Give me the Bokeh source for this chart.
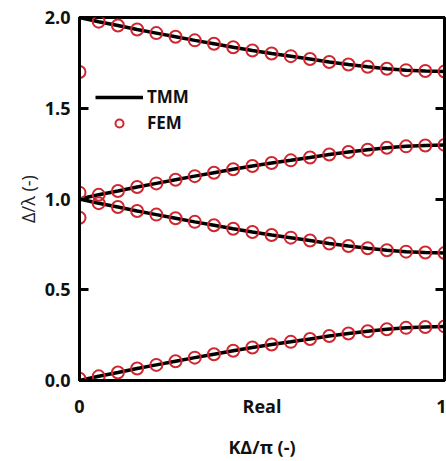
from bokeh.plotting import figure
from bokeh.models import (Range1d, LinearAxis, FixedTicker, Legend, LegendItem,
                          CustomLabelingPolicy)
from bokeh.embed import file_html
from bokeh.resources import INLINE

# ---- data ----
k_over_pi = [0.0, 0.0526, 0.1053, 0.1579, 0.2105, 0.2632, 0.3158, 0.3684, 0.4211, 0.4737,
             0.5263, 0.5789, 0.6316, 0.6842, 0.7368, 0.7895, 0.8421, 0.8947, 0.9474, 1.0]

tmm_band4 = [2.000, 1.977, 1.956, 1.934, 1.914, 1.894, 1.874, 1.855, 1.836, 1.818,
             1.802, 1.787, 1.771, 1.755, 1.741, 1.729, 1.718, 1.710, 1.705, 1.702]
tmm_band3 = [1.000, 1.023, 1.044, 1.066, 1.086, 1.106, 1.126, 1.145, 1.164, 1.182,
             1.198, 1.213, 1.229, 1.245, 1.259, 1.271, 1.282, 1.290, 1.295, 1.298]
tmm_band2 = [1.000, 0.977, 0.956, 0.934, 0.914, 0.894, 0.874, 0.855, 0.836, 0.818,
             0.802, 0.787, 0.771, 0.755, 0.741, 0.729, 0.718, 0.710, 0.705, 0.702]
tmm_band1 = [0.000, 0.023, 0.044, 0.066, 0.086, 0.106, 0.126, 0.145, 0.164, 0.182,
             0.198, 0.213, 0.229, 0.245, 0.259, 0.271, 0.282, 0.290, 0.295, 0.298]

fem_band4 = [1.700, 1.977, 1.956, 1.934, 1.914, 1.894, 1.874, 1.855, 1.836, 1.818,
             1.802, 1.787, 1.771, 1.755, 1.741, 1.729, 1.718, 1.710, 1.705, 1.702]
fem_band3 = [1.035, 1.023, 1.044, 1.066, 1.086, 1.106, 1.126, 1.145, 1.164, 1.182,
             1.198, 1.213, 1.229, 1.245, 1.259, 1.271, 1.282, 1.290, 1.295, 1.298]
fem_band2 = [0.897, 0.977, 0.956, 0.934, 0.914, 0.894, 0.874, 0.855, 0.836, 0.818,
             0.802, 0.787, 0.771, 0.755, 0.741, 0.729, 0.718, 0.710, 0.705, 0.702]
fem_band1 = [0.010, 0.023, 0.044, 0.066, 0.086, 0.106, 0.126, 0.145, 0.164, 0.182,
             0.198, 0.213, 0.229, 0.245, 0.259, 0.271, 0.282, 0.290, 0.295, 0.298]

x_ticks = [0, 0.5, 1]
x_tick_labels = {0: "0", 0.5: "Real", 1: "1"}
y_ticks = [0, 0.5, 1.0, 1.5, 2.0]
y_tick_labels = {0: "0.0", 0.5: "0.5", 1: "1.0", 1.5: "1.5", 2: "2.0"}

FONT = "Open Sans"
RED = "#d0262e"

p = figure(width=446, height=461, output_backend="svg", toolbar_location=None,
           x_range=Range1d(0, 1), y_range=Range1d(0, 2),
           min_border_left=79, min_border_right=2, min_border_top=17, min_border_bottom=79)
p.xgrid.visible = False
p.ygrid.visible = False
p.outline_line_color = "black"
p.outline_line_width = 3
p.outline_line_alpha = 1

tmm_renderers = []
for band in [tmm_band1, tmm_band2, tmm_band3, tmm_band4]:
    r = p.line(k_over_pi, band, line_color="black", line_width=3.5)
    tmm_renderers.append(r)
fem_renderers = []
for band in [fem_band1, fem_band2, fem_band3, fem_band4]:
    r = p.scatter(k_over_pi, band, marker="circle", size=12, fill_color=None,
                  line_color=RED, line_width=2)
    fem_renderers.append(r)

# x axis
xa = p.xaxis[0]
xa.ticker = FixedTicker(ticks=x_ticks)
xa.major_label_overrides = x_tick_labels
xa.minor_tick_line_color = None
xa.major_tick_in = 0
xa.major_tick_out = 0
xa.axis_line_width = 3
xa.major_label_standoff = 13
xa.major_label_text_font = FONT
xa.major_label_text_font_style = "bold"
xa.major_label_text_font_size = "18px"
xa.major_label_text_color = "#111111"
xa.axis_label = "KΔ/π (-)"
xa.axis_label_text_font = FONT
xa.axis_label_text_font_style = "bold"
xa.axis_label_text_font_size = "18px"
xa.axis_label_standoff = 14
xa.axis_label_text_color = "#111111"

# y axis
ya = p.yaxis[0]
ya.ticker = FixedTicker(ticks=y_ticks)
ya.major_label_overrides = y_tick_labels
ya.minor_tick_line_color = None
ya.major_tick_in = 9
ya.major_tick_out = 0
ya.major_tick_line_width = 3
ya.axis_line_width = 3
ya.major_label_standoff = 9
ya.major_label_text_font = FONT
ya.major_label_text_font_style = "bold"
ya.major_label_text_font_size = "18px"
ya.major_label_text_color = "#111111"
ya.axis_label = "Δ/λ (-)"
ya.axis_label_text_font = FONT
ya.axis_label_text_font_style = "normal"
ya.axis_label_text_font_size = "18px"
ya.axis_label_standoff = 2
ya.axis_label_text_color = "#222222"

# right mirrored axis (ticks only, no labels drawn)
ra = LinearAxis(ticker=FixedTicker(ticks=y_ticks))
ra.major_label_text_font_size = "0px"
ra.major_label_standoff = 0
ra.major_label_policy = CustomLabelingPolicy(
    code="for (const i of indices) indices.unset(i); return indices")
ra.major_tick_in = 9
ra.major_tick_out = 0
ra.major_tick_line_width = 3
ra.minor_tick_line_color = None
ra.axis_line_width = 3
p.add_layout(ra, "right")

legend = Legend(items=[LegendItem(label="TMM", renderers=[tmm_renderers[0]]),
                       LegendItem(label="FEM", renderers=[fem_renderers[0]])],
                location=(16, 246), orientation="vertical")
legend.background_fill_alpha = 0
legend.border_line_alpha = 0
legend.padding = 0
legend.margin = 0
legend.spacing = 3
legend.glyph_height = 20
legend.glyph_width = 48
legend.label_standoff = 4
legend.label_text_font = FONT
legend.label_text_font_style = "bold"
legend.label_text_font_size = "17px"
legend.label_text_color = "#111111"
p.add_layout(legend, "center")

open("out.html", "w").write(file_html(p, INLINE))
